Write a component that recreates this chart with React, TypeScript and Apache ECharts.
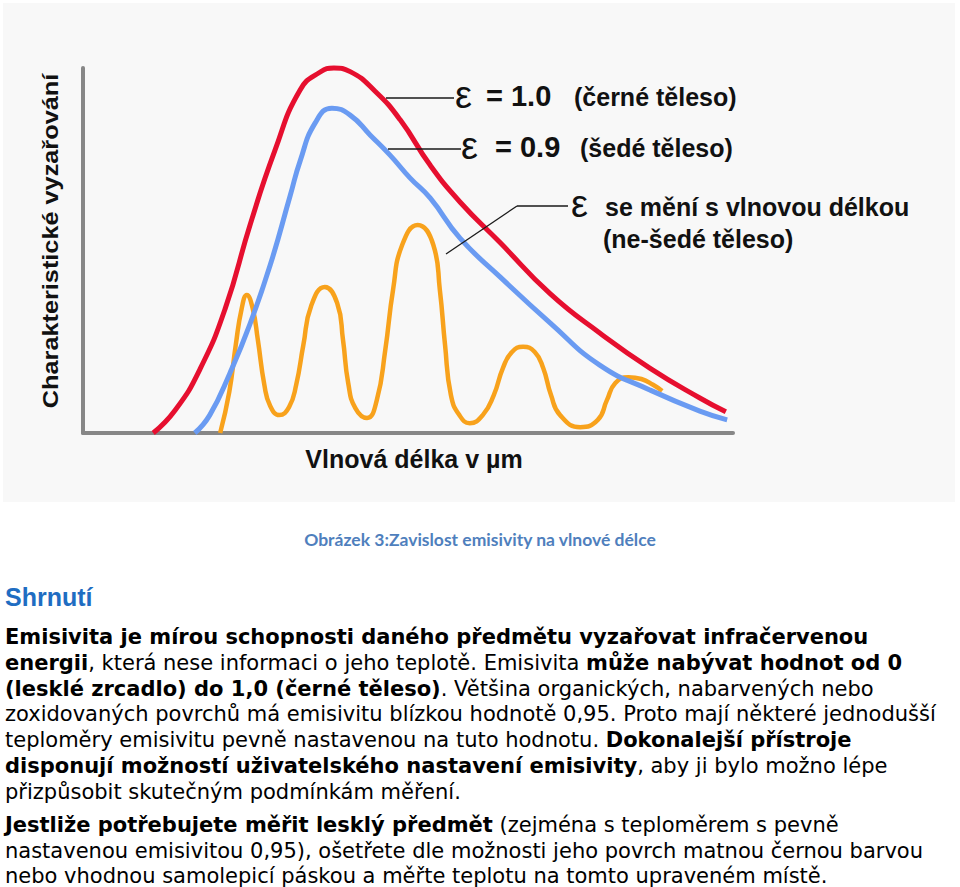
import React, { useEffect, useRef } from "react";
import * as echarts from "echarts";

// Wavelength (arbitrary units) vs. characteristic radiation (arbitrary units)
const blackBody: [number, number][] = [
  [10.8, 0], [14.2, 6.3], [18.0, 17.5], [21.9, 34.2], [25.7, 57.0], [29.5, 77.3],
  [33.4, 94.0], [36.5, 98.9], [38.6, 100], [41.1, 99.0], [44.9, 93.7], [48.8, 85.8],
  [53.4, 73.4], [58.0, 63.3], [64.2, 52.1], [71.9, 38.1], [79.5, 27.4], [87.2, 17.8],
  [94.9, 9.6], [98.9, 5.8],
];

const greyBody: [number, number][] = [
  [17.2, 0], [19.5, 4.9], [22.6, 16.4], [25.7, 29.9], [28.8, 46.0], [31.9, 65.2],
  [33.4, 74.5], [35.7, 84.9], [38.3, 89.0], [41.1, 87.1], [44.2, 81.6], [47.2, 76.2],
  [50.3, 69.9], [53.4, 64.4], [58.0, 53.4], [64.2, 42.7], [71.9, 30.1], [79.5, 18.6],
  [87.2, 11.8], [94.9, 6.0], [99.1, 3.6],
];

const nonGreyBody: [number, number][] = [
  [21.1, 0], [22.5, 11.2], [23.5, 24.1], [24.4, 34.0], [25.2, 37.8], [26.1, 34.2],
  [26.9, 25.5], [27.9, 13.2], [28.8, 7.4], [30.2, 4.9], [31.7, 7.1], [32.8, 13.2],
  [33.9, 24.1], [35.1, 34.8], [37.2, 40.0], [39.1, 35.6], [40.0, 25.5], [40.8, 13.7],
  [41.9, 6.8], [43.7, 4.1], [45.2, 9.0], [46.5, 22.7], [47.7, 39.2], [49.1, 51.5],
  [51.5, 57.0], [53.9, 51.5], [54.9, 39.2], [55.7, 24.1], [56.6, 10.4], [57.9, 4.9],
  [59.5, 2.7], [61.5, 4.9], [63.2, 10.4], [64.6, 17.8], [66.0, 22.2], [67.7, 23.6],
  [69.5, 22.2], [70.8, 17.8], [72.0, 10.4], [73.4, 4.9], [76.5, 1.6], [79.2, 3.6],
  [80.6, 9.0], [81.9, 13.7], [83.9, 15.3], [85.9, 14.8], [87.7, 13.2], [89.1, 11.5],
];

const yAxisTitle = "Charakteristické vyzařování";
const xAxisTitle = "Vlnová délka v µm";
const caption = "Obrázek 3:Zavislost emisivity na vlnové délce";
const heading = "Shrnutí";

// body lines: [text, bold?] segments
const bodyLines: [string, boolean][][] = [
  [["Emisivita je mírou schopnosti daného předmětu vyzařovat infračervenou", true]],
  [["energii", true], [", která nese informaci o jeho teplotě. Emisivita ", false], ["může nabývat hodnot od 0", true]],
  [["(lesklé zrcadlo) do 1,0 (černé těleso)", true], [". Většina organických, nabarvených nebo", false]],
  [["zoxidovaných povrchů má emisivitu blízkou hodnotě 0,95. Proto mají některé jednodušší", false]],
  [["teploměry emisivitu pevně nastavenou na tuto hodnotu. ", false], ["Dokonalejší přístroje", true]],
  [["disponují možností uživatelského nastavení emisivity", true], [", aby ji bylo možno lépe", false]],
  [["přizpůsobit skutečným podmínkám měření.", false]],
  [["Jestliže potřebujete měřit lesklý předmět", true], [" (zejména s teploměrem s pevně", false]],
  [["nastavenou emisivitou 0,95), ošetřete dle možnosti jeho povrch matnou černou barvou", false]],
  [["nebo vhodnou samolepicí páskou a měřte teplotu na tomto upraveném místě.", false]],
];
const bodyLineY = [637, 663, 689, 714, 740, 766, 792, 825, 851, 876];

const SANS = "'Liberation Sans', Arial, sans-serif";
const BODY = "'DejaVu Sans', Verdana, sans-serif";

function txt(x: number, y: number, text: string, size: number, opts: any = {}) {
  return {
    type: "text",
    x,
    y,
    rotation: opts.rotation || 0,
    scaleX: opts.scaleX || 1,
    z: 10,
    style: {
      text,
      fontSize: size,
      fontFamily: opts.family || SANS,
      fontWeight: opts.weight || "bold",
      fill: opts.color || "#111",
      align: opts.align || "left",
      textAlign: opts.align || "left",
      verticalAlign: "middle",
      textVerticalAlign: "middle",
    },
  };
}

function line(x1: number, y1: number, x2: number, y2: number) {
  return {
    type: "line",
    z: 10,
    shape: { x1, y1, x2, y2 },
    style: { stroke: "#1a1a1a", lineWidth: 1.3 },
  };
}

export default function App() {
  const ref = useRef<HTMLDivElement>(null);
  useEffect(() => {
    if (!ref.current) return;
    const chart = echarts.init(ref.current, undefined, { renderer: "svg" });

    const bodyElems = bodyLines.map((segs, i) => ({
      type: "text",
      x: 5,
      y: bodyLineY[i],
      z: 10,
      style: {
        text: segs.map(([t, b]) => `{${b ? "b" : "n"}|${t}}`).join(""),
        align: "left",
        textAlign: "left",
        verticalAlign: "middle",
        textVerticalAlign: "middle",
        rich: {
          b: { fontFamily: BODY, fontSize: 21, lineHeight: 19, fontWeight: "bold", fill: "#000" },
          n: { fontFamily: BODY, fontSize: 21, lineHeight: 19, fontWeight: "normal", fill: "#000" },
        },
      },
    }));

    const axisLineStyle = { color: "#878787", width: 4 };
    const option: any = {
      animation: false,
      backgroundColor: "#ffffff",
      grid: { left: 83, top: 68, width: 650, height: 365, containLabel: false },
      xAxis: {
        type: "value", min: 0, max: 100,
        axisLine: { show: true, lineStyle: axisLineStyle },
        axisTick: { show: false }, axisLabel: { show: false }, splitLine: { show: false },
      },
      yAxis: {
        type: "value", min: 0, max: 100,
        axisLine: { show: true, lineStyle: axisLineStyle },
        axisTick: { show: false }, axisLabel: { show: false }, splitLine: { show: false },
      },
      series: [
        {
          type: "line", name: "ε proměnná", data: nonGreyBody, smooth: 0.5, showSymbol: false, clip: false,
          lineStyle: { color: "#f8a21c", width: 4.5 }, z: 3,
        },
        {
          type: "line", name: "ε = 0.9", data: greyBody, smooth: 0.5, showSymbol: false, clip: false,
          lineStyle: { color: "#6a9bf2", width: 5 }, z: 4,
        },
        {
          type: "line", name: "ε = 1.0", data: blackBody, smooth: 0.5, showSymbol: false, clip: false,
          lineStyle: { color: "#e60f2f", width: 5 }, z: 5,
        },
      ],
      graphic: [
        { type: "rect", z: -10, shape: { x: 3, y: 3, width: 952, height: 499 }, style: { fill: "#f8f8f8" } },
        txt(51, 241, yAxisTitle, 22, { rotation: Math.PI / 2, align: "center", scaleX: 1.15 }),
        txt(414, 459, xAxisTitle, 25, { align: "center" }),
        // annotations
        line(386, 98, 454, 98),
        txt(455, 95, "ε", 38, { weight: "normal" }),
        txt(486, 96, "= 1.0", 29),
        txt(574, 97, "(černé těleso)", 25),
        line(388, 149, 461, 149),
        txt(461, 146, "ε", 38, { weight: "normal" }),
        txt(495, 147, "= 0.9", 29),
        txt(580, 148, "(šedé těleso)", 25),
        line(517, 206, 568, 206),
        line(517, 206, 446, 254),
        txt(571, 204, "ε", 38, { weight: "normal" }),
        txt(605, 207, "se mění s vlnovou délkou", 25),
        txt(603, 239, "(ne-šedé těleso)", 25),
        // caption & text
        txt(480, 539, caption, 17.5, { family: "Lato, 'Open Sans', sans-serif", color: "#4f7fbd", align: "center" }),
        txt(5, 597, heading, 25, { color: "#1f6dc2" }),
        ...bodyElems,
      ],
    };
    chart.setOption(option);
    return () => chart.dispose();
  }, []);
  return (
    <div
      ref={ref}
      style={{ position: "fixed", left: 0, top: 0, width: 960, height: 887 }}
    />
  );
}
